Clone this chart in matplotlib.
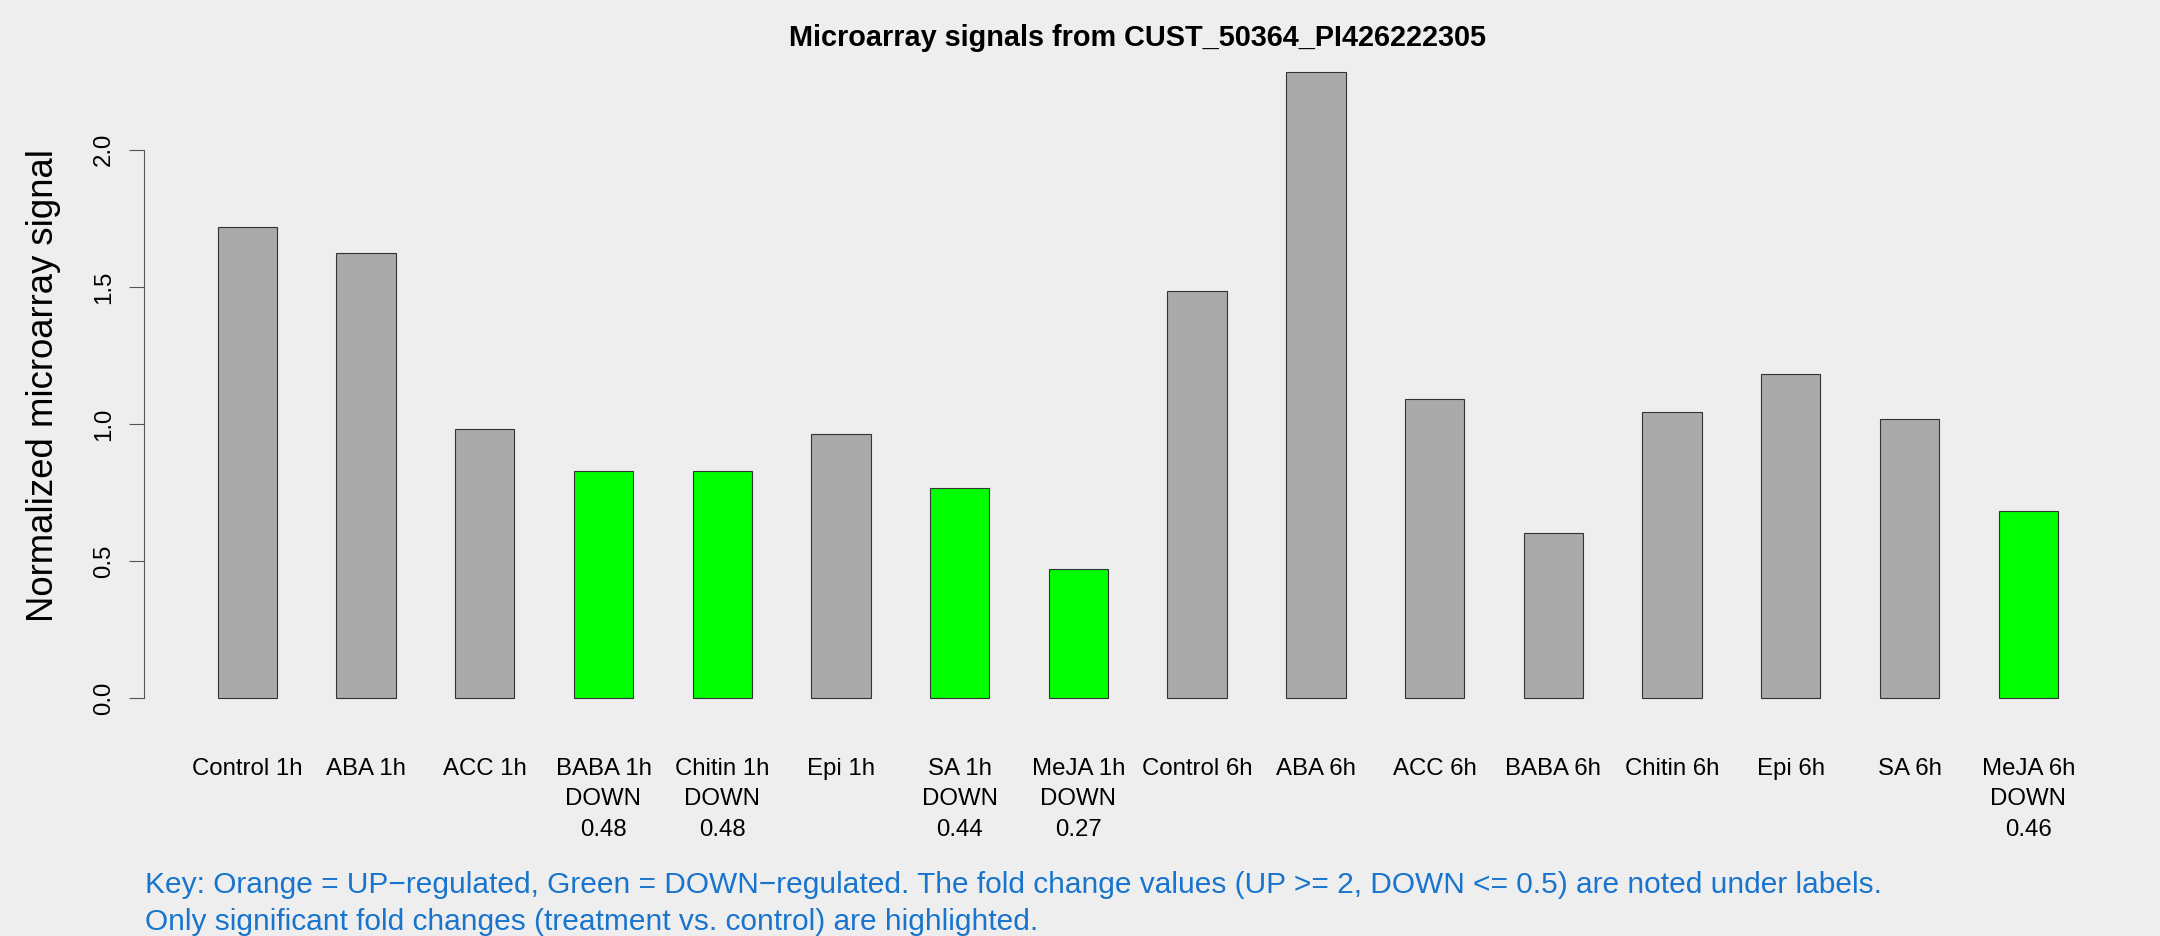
import matplotlib.pyplot as plt
import numpy as np

# values
labels = ["Control 1h", "ABA 1h", "ACC 1h", "BABA 1h", "Chitin 1h", "Epi 1h",
          "SA 1h", "MeJA 1h", "Control 6h", "ABA 6h", "ACC 6h", "BABA 6h",
          "Chitin 6h", "Epi 6h", "SA 6h", "MeJA 6h"]
signal = [1.720, 1.625, 0.983, 0.827, 0.827, 0.963, 0.767, 0.471,
          1.484, 2.282, 1.093, 0.602, 1.043, 1.184, 1.018, 0.682]
regulation = ["", "", "", "DOWN", "DOWN", "", "DOWN", "DOWN",
              "", "", "", "", "", "", "", "DOWN"]
fold = ["", "", "", "0.48", "0.48", "", "0.44", "0.27",
        "", "", "", "", "", "", "", "0.46"]
yticks = [0.0, 0.5, 1.0, 1.5, 2.0]

title = "Microarray signals from CUST_50364_PI426222305"
ylabel = "Normalized microarray signal"
key_lines = [
    "Key: Orange = UP\u2212regulated, Green = DOWN\u2212regulated. The fold change values "
    "(UP >= 2, DOWN <= 0.5) are noted under labels.",
    "Only significant fold changes (treatment vs. control) are highlighted.",
]

bg = "#EEEEEE"
reg_colors = {"UP": "#FFA500", "DOWN": "#00FF00", "": "#AAAAAA"}

plt.rcParams["font.family"] = ["Liberation Sans", "DejaVu Sans"]

W, H = 2160, 936
fig = plt.figure(figsize=(W / 100, H / 100), dpi=100, facecolor=bg)

# plot region in pixels (R style margins)
left, right, top, bottom = 144, 2131.5, 47.3, 723.4
ax = fig.add_axes([left / W, 1 - bottom / H, (right - left) / W, (bottom - top) / H])
ax.set_facecolor(bg)

# R barplot: width 1, space 1
x = np.arange(len(labels)) * 2 + 1.5
colors = [reg_colors[r] for r in regulation]
ax.bar(x, signal, width=1.0, color=colors, edgecolor="#333333", linewidth=0.8)

ymax = max(signal)
ax.set_xlim(1 - 0.04 * 31, 32 + 0.04 * 31)
ax.set_ylim(-0.04 * ymax, ymax * 1.04)

for s in ["top", "right", "bottom"]:
    ax.spines[s].set_visible(False)
ax.spines["left"].set_bounds(0, 2)
ax.spines["left"].set_color("#555555")
ax.spines["left"].set_linewidth(0.8)
ax.set_xticks([])
ax.set_yticks(yticks)
ax.set_yticklabels([f"{v:.1f}" for v in yticks], rotation=90, va="center")
ax.tick_params(axis="y", length=10.8, width=0.8, color="#555555", pad=10,
               labelsize=17.3, labelcolor="black")

# category labels, with regulation and fold change under them
for xi, lab, reg, fc in zip(x, labels, regulation, fold):
    for k, line in enumerate([lab, reg, fc]):
        if not line:
            continue
        ax.annotate(line, xy=(xi, 0), xycoords=("data", "axes fraction"),
                    xytext=(0, -(51.6 + 30.3 * k)), textcoords="offset pixels",
                    ha="center", va="baseline", fontsize=17.3)

fig.text((left + right) / 2 / W, 1 - 46 / H, title, ha="center", va="baseline",
         fontsize=20.8, fontweight="bold")
fig.text(44 / W, 1 - (top + bottom) / 2 / H, ylabel, rotation=90,
         ha="center", va="center", fontsize=26.3)
for k, line in enumerate(key_lines):
    fig.text(145 / W, 1 - (893.3 + 36.5 * k) / H, line, ha="left", va="baseline",
             fontsize=21.5, color="#1874CD")

fig.savefig("out.png", dpi=100, facecolor=bg)
